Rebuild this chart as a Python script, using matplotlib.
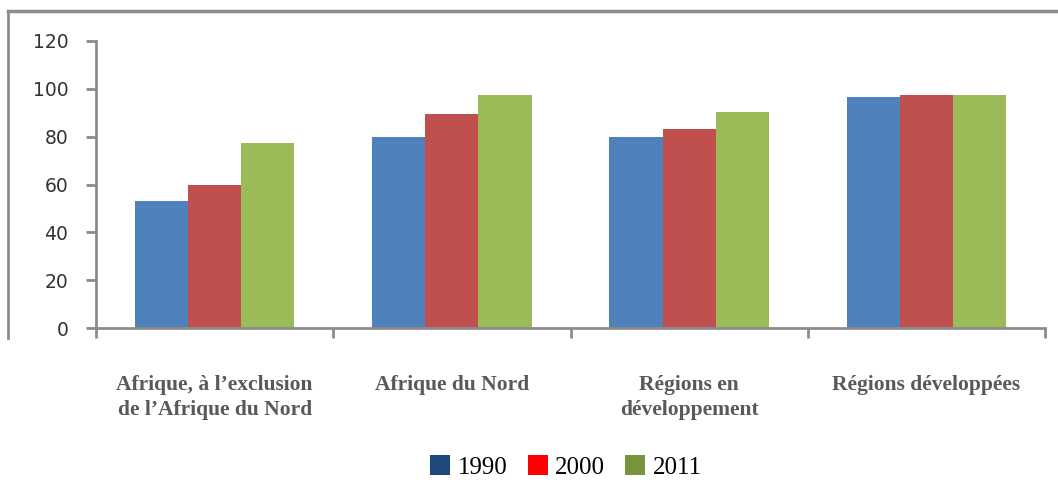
import matplotlib

matplotlib.use("Agg")
import matplotlib.pyplot as plt
import numpy as np
from matplotlib.lines import Line2D
from matplotlib.patches import Patch

CATEGORIES = [
    "Afrique, à l’exclusion\nde l’Afrique du Nord",
    "Afrique du Nord",
    "Régions en\ndéveloppement",
    "Régions développées",
]
YEARS = ["1990", "2000", "2011"]
VALUES_1990 = [53, 80, 80, 96.5]
VALUES_2000 = [60, 89.5, 83, 97.5]
VALUES_2011 = [77.5, 97.5, 90.5, 97.5]
Y_TICKS = [0, 20, 40, 60, 80, 100, 120]

BAR_COLORS = ["#4F81BD", "#C0504D", "#9BBB59"]
LEGEND_COLORS = ["#1F497D", "#FF0000", "#77933C"]
GRAY = "#8C8C8C"
TEXT_GRAY = "#595959"

W, H = 1058, 484
fig = plt.figure(figsize=(W / 100, H / 100), dpi=100)
ax = fig.add_axes([96 / W, 1 - 328 / H, (1045 - 96) / W, (328 - 41) / H])

x = np.arange(len(CATEGORIES))
width = 0.224
for i, (vals, color) in enumerate(zip([VALUES_1990, VALUES_2000, VALUES_2011], BAR_COLORS)):
    ax.bar(x + (i - 1) * width, vals, width=width, color=color, edgecolor="none", zorder=2)

ax.set_xlim(-0.5, len(CATEGORIES) - 0.5)
ax.set_ylim(0, 120)
ax.set_yticks(Y_TICKS)
ax.set_yticklabels([str(t) for t in Y_TICKS], fontsize=13.5, color="#333333",
                   fontfamily="DejaVu Sans")
ax.set_xticks(np.arange(len(CATEGORIES) + 1) - 0.5)
ax.set_xticklabels([])
ax.tick_params(axis="both", direction="out", length=7, width=2, color=GRAY)
ax.tick_params(axis="y", pad=13)

for side in ["top", "right"]:
    ax.spines[side].set_visible(False)
for side in ["left", "bottom"]:
    ax.spines[side].set_color(GRAY)
    ax.spines[side].set_linewidth(2)

trans = ax.get_xaxis_transform()
for xi, label in zip(x, CATEGORIES):
    ax.text(xi, -47 / 287, label, transform=trans, ha="center", va="top",
            fontsize=15.5, fontweight="bold", color=TEXT_GRAY,
            fontfamily="Liberation Serif", linespacing=1.3)

# chart frame remnants (top and left border)
fig.add_artist(Line2D([8 / W, 8 / W], [1 - 11 / H, 1 - 338 / H], color=GRAY, lw=2))
fig.add_artist(Line2D([8 / W, 1.0], [1 - 11 / H, 1 - 11 / H], color=GRAY, lw=2.5))

handles = [Patch(facecolor=c, edgecolor="none") for c in LEGEND_COLORS]
fig.legend(handles, YEARS, loc="center", bbox_to_anchor=(566 / W, 1 - 467 / H), ncol=3,
           frameon=False, prop={"family": "Liberation Serif", "size": 18},
           handlelength=0.8, handleheight=0.8, handletextpad=0.3, columnspacing=0.8)

fig.savefig("out.png", dpi=100)
